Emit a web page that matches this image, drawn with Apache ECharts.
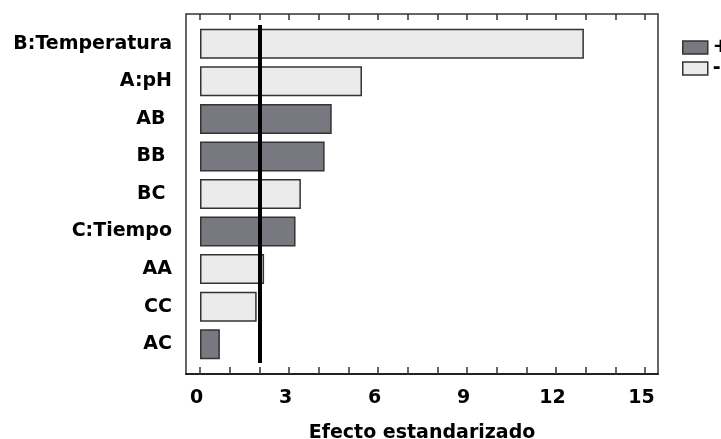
<!DOCTYPE html>
<html>
<head>
<meta charset="utf-8">
<script src="https://cdn.jsdelivr.net/npm/echarts@6/dist/echarts.min.js"></script>
<style>html,body{margin:0;padding:0;background:#fff}#c{width:721px;height:439px}</style>
</head>
<body>
<div id="c"></div>
<script>
// ---- data ----
var categories = ['B:Temperatura', 'A:pH', 'AB ', 'BB ', 'BC ', 'C:Tiempo', 'AA', 'CC', 'AC'];
var effects = [12.94, 5.46, 4.44, 4.20, 3.40, 3.22, 2.16, 1.91, 0.67];
var signs = ['-', '-', '+', '+', '-', '+', '-', '-', '+'];
var criticalValue = 2.01;
var tickValues = [0,1,2,3,4,5,6,7,8,9,10,11,12,13,14,15];
var tickLabels = [0, 3, 6, 9, 12, 15];
var axisTitle = 'Efecto estandarizado';

var plusVals = effects.map(function (v, i) { return signs[i] === '+' ? v : null; });
var minusVals = effects.map(function (v, i) { return signs[i] === '-' ? v : null; });

var FONT = 'DejaVu Sans';
var xMin = -0.472, xMax = 15.438;

var chart = echarts.init(document.getElementById('c'), null, {renderer: 'canvas'});
chart.setOption({
  animation: false,
  backgroundColor: '#ffffff',
  legend: {
    orient: 'vertical',
    left: 677, top: 33,
    icon: 'rect',
    itemWidth: 25, itemHeight: 13, itemGap: 2,
    data: ['+', '-'],
    textStyle: {fontFamily: FONT, fontWeight: 'bold', fontSize: 19, color: '#000'},
    itemStyle: {borderColor: '#333', borderWidth: 1.5}
  },
  grid: [
    {left: 186, top: 14, width: 472, height: 360, outerBoundsMode: 'none', containLabel: false,
     show: true, borderColor: '#333', borderWidth: 1.5, backgroundColor: 'transparent'},
    {left: 186, top: 25, width: 472, height: 338, outerBoundsMode: 'none', containLabel: false}
  ],
  xAxis: [
    {
      type: 'value', gridIndex: 0, position: 'bottom', min: xMin, max: xMax,
      axisLine: {show: true, lineStyle: {color: '#222', width: 2}},
      axisTick: {show: true, inside: true, length: 7, customValues: tickValues, lineStyle: {color: '#333', width: 1.5}},
      axisLabel: {show: true, customValues: tickLabels, margin: 15, padding: [0, 7, 0, 0],
        fontFamily: FONT, fontWeight: 'bold', fontSize: 19, color: '#000'},
      splitLine: {show: false},
      name: axisTitle, nameLocation: 'middle', nameGap: 50,
      nameTextStyle: {fontFamily: FONT, fontWeight: 'bold', fontSize: 19, color: '#000'}
    },
    {
      type: 'value', gridIndex: 0, position: 'top', min: xMin, max: xMax,
      axisLine: {show: false},
      axisTick: {show: true, inside: true, length: 6, customValues: tickValues, lineStyle: {color: '#333', width: 1.5}},
      axisLabel: {show: false},
      splitLine: {show: false}
    },
    {
      type: 'value', gridIndex: 1, min: xMin, max: xMax, show: false
    }
  ],
  yAxis: [
    {type: 'value', gridIndex: 0, show: false, min: 0, max: 1},
    {
      type: 'category', gridIndex: 1, data: categories, inverse: true,
      axisLine: {show: false}, axisTick: {show: false},
      axisLabel: {margin: 14, fontFamily: FONT, fontWeight: 'bold', fontSize: 19, color: '#000'}
    }
  ],
  series: [
    {
      name: '+', type: 'bar', xAxisIndex: 2, yAxisIndex: 1, data: plusVals,
      barWidth: 30, barGap: '-100%',
      itemStyle: {color: '#787880', borderColor: '#333', borderWidth: 1.5}
    },
    {
      name: '-', type: 'bar', xAxisIndex: 2, yAxisIndex: 1, data: minusVals,
      barWidth: 30, barGap: '-100%',
      itemStyle: {color: '#ebebeb', borderColor: '#333', borderWidth: 1.5},
      markLine: {
        silent: true, symbol: 'none', animation: false,
        label: {show: false},
        lineStyle: {color: '#000', width: 4, type: 'solid'},
        data: [{xAxis: criticalValue}]
      }
    }
  ]
});
</script>
</body>
</html>
